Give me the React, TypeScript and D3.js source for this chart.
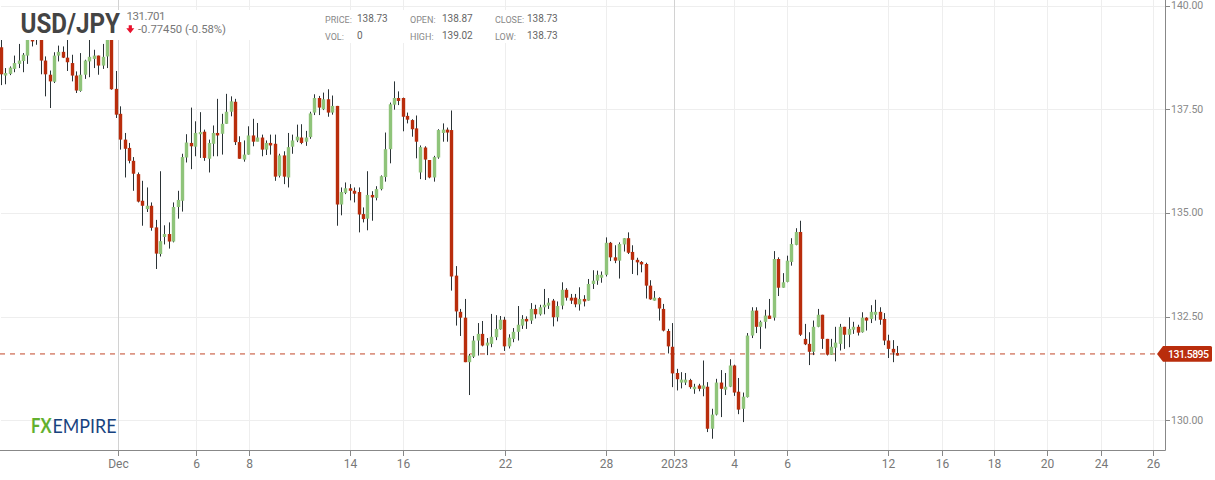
import React from "react";
import * as d3 from "d3";

const opens = [138.96,138.28,138.32,138.44,138.56,138.63,138.76,139.5,139.25,139.5,138.64,138.30,138.13,138.76,138.85,138.71,138.58,138.28,137.91,138.30,138.62,138.68,138.76,138.52,138.74,139.4,137.96,137.36,136.74,136.54,136.23,135.91,135.27,135.07,135.15,134.63,133.99,134.40,134.47,134.29,135.12,135.27,136.31,136.66,136.57,136.87,136.93,136.28,136.64,136.90,136.88,137.12,137.41,137.65,136.68,136.26,136.38,136.84,136.69,136.79,136.50,136.66,136.64,135.87,136.36,135.83,136.57,136.72,136.79,136.69,136.80,137.39,137.74,137.47,137.71,137.39,137.55,135.18,135.46,135.57,135.51,135.48,134.95,134.84,135.41,135.34,135.55,135.84,136.51,137.58,137.74,137.74,137.31,137.21,137.01,135.95,136.55,136.25,135.83,136.31,136.90,136.98,136.97,133.47,132.60,132.46,131.39,131.52,131.91,132.07,131.79,131.83,131.99,132.18,132.41,131.77,131.95,132.12,132.27,132.43,132.39,132.67,132.54,132.71,132.75,132.87,132.47,132.75,133.13,132.94,132.94,132.78,132.91,132.87,133.27,133.35,133.42,133.49,134.26,133.91,133.83,134.22,134.37,134.04,133.85,133.80,133.75,133.23,132.87,132.93,132.67,132.14,131.76,131.13,130.90,130.90,130.96,130.74,130.83,130.75,130.80,129.79,130.13,130.90,130.73,130.80,131.31,130.68,130.27,130.55,132.03,132.63,132.24,132.36,132.51,132.46,133.87,133.18,133.32,133.80,134.21,134.52,131.95,131.83,131.64,132.24,132.53,131.95,131.57,131.74,131.83,132.24,132.05,132.17,132.24,132.11,132.46,132.43,132.53,132.60,132.43,131.91,131.71,131.61];
const closes = [138.31,138.34,138.47,138.58,138.64,138.78,139.30,139.10,139.6,138.64,138.31,138.14,138.76,138.85,138.71,138.60,138.28,137.92,138.30,138.64,138.73,138.76,138.52,138.73,139.4,137.95,137.34,136.74,136.52,136.23,135.92,135.25,135.15,135.15,134.62,134.00,134.30,134.47,134.29,135.12,135.29,136.32,136.67,136.58,136.90,136.92,136.30,136.66,136.90,136.84,137.12,137.41,137.66,136.68,136.28,136.38,136.84,136.69,136.79,136.50,136.66,136.60,135.85,136.36,135.85,136.56,136.72,136.81,136.66,136.79,137.37,137.74,137.51,137.71,137.39,137.55,135.18,135.48,135.57,135.51,135.44,134.94,134.83,135.41,135.35,135.55,135.86,136.51,137.59,137.74,137.67,137.29,137.22,136.99,136.69,136.56,136.26,135.83,136.32,136.97,136.98,136.91,133.45,132.61,132.46,131.39,131.55,131.91,132.07,131.79,131.86,132.00,132.19,132.41,131.77,131.98,132.12,132.29,132.43,132.37,132.67,132.54,132.71,132.77,132.82,132.47,132.74,133.13,132.94,132.87,132.78,132.91,132.85,133.27,133.35,133.49,133.49,134.26,133.91,133.83,134.23,134.37,134.02,133.85,133.79,133.74,133.23,132.90,132.94,132.68,132.15,131.77,131.12,130.98,130.97,130.97,130.79,130.80,130.75,130.83,129.79,130.13,130.90,130.75,130.80,131.31,130.66,130.25,130.56,132.03,132.63,132.24,132.36,132.51,132.43,133.87,133.18,133.31,133.83,134.23,134.52,132.05,131.82,131.64,132.24,132.53,131.95,131.57,131.76,131.86,132.24,132.05,132.19,132.24,132.10,132.46,132.39,132.60,132.60,132.41,131.91,131.71,131.62,131.55];
const highs = [139.22,138.46,138.50,138.76,139.04,138.82,139.5,139.6,139.8,139.7,138.74,138.40,138.84,139.00,138.98,139.14,138.78,138.38,138.82,138.66,139.2,138.90,138.76,139.04,139.7,139.8,138.39,137.54,136.90,136.66,136.32,135.95,135.75,135.59,135.23,134.81,135.98,134.68,134.75,135.23,135.51,136.40,136.87,137.51,137.18,137.40,136.98,136.74,137.08,137.72,137.36,137.84,137.78,137.72,136.82,136.72,137.06,137.24,137.14,136.86,136.72,136.86,136.86,136.40,136.46,136.90,136.86,137.10,137.11,136.95,137.41,137.83,137.79,137.87,137.95,137.80,137.55,135.59,135.71,135.67,135.59,135.59,135.11,135.98,135.50,135.62,135.88,136.91,137.63,138.14,137.90,137.75,137.39,137.23,137.32,136.60,136.58,136.25,136.35,136.99,137.13,137.03,137.44,133.70,132.67,132.91,131.59,132.02,132.33,132.38,131.97,132.55,132.52,132.50,132.48,132.06,132.21,132.74,132.52,132.49,132.81,132.77,132.77,133.15,132.93,132.91,132.85,133.31,133.17,133.03,133.03,133.19,133.00,133.39,133.60,133.59,133.57,134.39,134.28,134.20,134.27,134.37,134.51,134.20,133.90,133.82,133.78,133.36,133.10,132.95,132.79,132.19,132.33,131.23,131.15,131.13,130.99,130.87,130.87,131.43,130.91,130.27,130.99,131.20,131.13,131.46,131.33,131.01,130.66,132.09,132.71,132.71,132.39,132.65,132.91,134.06,133.91,133.53,133.95,134.37,134.61,134.79,132.31,132.11,132.39,132.67,132.53,131.95,131.95,132.24,132.31,132.24,132.47,132.36,132.29,132.59,132.47,132.76,132.89,132.71,132.57,132.05,131.92,131.78];
const lows = [138.05,138.07,138.29,138.36,138.46,138.36,138.56,138.98,139.02,138.31,137.78,137.50,138.10,138.62,138.70,138.39,138.14,137.86,137.89,138.20,138.24,138.46,138.30,138.44,138.46,137.94,137.26,136.50,135.83,136.17,135.51,135.23,134.67,135.00,134.55,133.63,133.93,134.22,134.12,134.27,134.84,135.01,136.19,136.03,136.34,136.30,136.23,135.95,136.34,136.34,136.38,137.12,137.30,136.61,136.28,136.21,136.38,136.58,136.70,136.34,136.37,136.38,135.75,135.83,135.67,135.59,136.40,136.68,136.63,136.59,136.76,137.33,137.33,137.45,137.29,137.34,134.67,134.92,135.43,135.28,135.23,134.51,134.75,134.56,134.79,135.28,135.52,135.73,136.17,137.46,137.57,136.94,137.13,136.81,136.29,135.79,135.77,135.81,135.73,136.28,136.69,136.69,133.11,132.27,132.02,131.39,130.60,131.49,131.55,131.77,131.56,131.75,131.92,132.17,131.66,131.72,131.87,131.91,132.19,132.19,132.31,132.44,132.51,132.54,132.67,132.25,132.37,132.66,132.87,132.79,132.71,132.63,132.73,132.87,133.15,133.25,133.30,133.45,133.82,133.77,133.40,134.05,133.99,133.51,133.48,133.55,132.92,132.89,132.87,132.39,132.13,131.60,130.79,130.71,130.76,130.84,130.75,130.63,130.69,130.57,129.71,129.55,130.11,130.07,130.60,130.79,130.58,130.14,129.95,130.54,131.97,132.09,131.71,132.20,132.43,132.39,132.98,133.18,133.31,133.71,134.20,132.02,131.80,131.32,131.56,132.23,131.71,131.55,131.57,131.41,131.67,131.71,131.75,132.07,132.03,132.10,132.15,132.33,132.39,132.29,131.80,131.49,131.39,131.55];

const yTicks = [130, 132.5, 135, 137.5, 140];
const xTickLabels = ["Dec","6","8","14","16","22","28","2023","4","6","12","16","18","20","24","26"];
const xTickIndex = [26.57,44.24,56.24,79.12,91.12,114.22,137.1,152.5,166.1,178.1,200.97,213.1,225.0,237.0,249.1,261.0];
const strongTicks = ["Dec", "2023"];
const lastPrice = 131.5895;
const infoRows = [
  ["PRICE:", "138.73", "OPEN:", "138.87", "CLOSE:", "138.73"],
  ["VOL:", "0", "HIGH:", "139.02", "LOW:", "138.73"],
];

const W = 1215, H = 480;
const right = 1165.5, bottom = 450.5;
const font = "Roboto, sans-serif";

export default function App() {
  const x = d3.scaleLinear().domain([0, opens.length - 1]).range([1, 897.3]);
  const y = d3.scaleLinear().domain([130, 140]).range([420, 4]);
  const yAxis = d3.scaleLinear().domain([130, 140]).range([420.3, 5.5]);
  const up = "#8fc47a", down = "#b92d0c", wick = "#2b3336";
  const snap = (v: number) => Math.round(v);
  return (
    <svg width={W} height={H} style={{ position: "absolute", left: 0, top: 0, background: "#fff", fontFamily: font }}>
      {yTicks.map((t) => (
        <line key={t} x1={1} x2={right} y1={snap(yAxis(t)) + 0.5} y2={snap(yAxis(t)) + 0.5} stroke="#eeeeee" />
      ))}
      {xTickIndex.map((t, i) => (
        <line key={i} x1={snap(x(t)) + 0.5} x2={snap(x(t)) + 0.5} y1={0} y2={bottom}
          stroke={strongTicks.includes(xTickLabels[i]) ? "#d2d2d2" : "#eeeeee"} />
      ))}
      <line x1={0} x2={right - 8} y1={y(lastPrice)} y2={y(lastPrice)} stroke="#b92d0c" strokeOpacity={0.5} strokeWidth={1.6} strokeDasharray="5 5" />
      {opens.map((o, i) => {
        const c = closes[i];
        const px = snap(x(i));
        const top = y(Math.max(o, c));
        const h = Math.max(y(Math.min(o, c)) - top, 2);
        return (
          <g key={i}>
            <line x1={px + 0.5} x2={px + 0.5} y1={y(highs[i])} y2={y(lows[i])} stroke={wick} />
            <rect x={px - 1.2} y={top} width={3.4} height={h} fill={c >= o ? up : down} />
          </g>
        );
      })}
      <rect x={0} y={10} width={300} height={30} fill="#fff" />
      <rect x={300} y={10} width={300} height={33} fill="#fff" />
      <text x={20.5} y={33} fontSize={28} fontWeight={700} fill="#444" textLength={99.5} lengthAdjust="spacingAndGlyphs">USD/JPY</text>
      <text x={126.5} y={20} fontSize={11.5} fill="#777" textLength={39}>131.701</text>
      <path d="M128.7,25.3 h3.2 v3 h2.4 l-4,5 l-4,-5 h2.4 z" fill="#e8112d" />
      <text x={138} y={33} fontSize={11.3} fill="#777" textLength={88}>-0.77450 (-0.58%)</text>
      {infoRows.map((row, r) =>
        [325, 357, 410, 442, 495, 527].map((tx, i) => (
          <text key={r + "-" + i} x={tx} y={r === 0 ? (i % 2 ? 22 : 23) : (i % 2 ? 39 : 40)}
            fontSize={i % 2 ? 10 : 9} fill={i % 2 ? "#666" : "#888"}>{row[i]}</text>
        ))
      )}
      <text x={31} y={433} fontSize={20} fontWeight={700} fill="#62b02e" textLength={20.5} lengthAdjust="spacingAndGlyphs" fontFamily="Lato, sans-serif">FX</text>
      <text x={52.5} y={433} fontSize={20} fontWeight={400} fill="#17437f" textLength={64} lengthAdjust="spacingAndGlyphs" fontFamily="Lato, sans-serif">EMPIRE</text>
      <line x1={0} x2={right} y1={bottom} y2={bottom} stroke="#888" />
      <line x1={right} x2={right} y1={0} y2={bottom} stroke="#888" />
      {xTickIndex.map((t, i) => (
        <g key={i}>
          <line x1={snap(x(t)) + 0.5} x2={snap(x(t)) + 0.5} y1={bottom} y2={456} stroke="#888" />
          <text x={snap(x(t)) + 0.5} y={468} textAnchor="middle" fontSize={12} fill="#777">{xTickLabels[i]}</text>
        </g>
      ))}
      {yTicks.map((t) => (
        <g key={t}>
          <line x1={right} x2={1170} y1={snap(yAxis(t)) + 0.5} y2={snap(yAxis(t)) + 0.5} stroke="#888" />
          <text x={1171} y={yAxis(t) + 3.5} fontSize={10.5} fill="#888">{d3.format(".2f")(t)}</text>
        </g>
      ))}
      <path d={`M1157,${y(lastPrice)} l6,-7.8 h47.5 a1.5,1.5 0 0 1 1.5,1.5 v12.6 a1.5,1.5 0 0 1 -1.5,1.5 h-47.5 z`} fill="#b92d0c" />
      <text x={1168} y={y(lastPrice) + 3.8} fontSize={10.5} fontWeight={500} fill="#fff" textLength={41}>{d3.format(".4f")(lastPrice)}</text>
    </svg>
  );
}
